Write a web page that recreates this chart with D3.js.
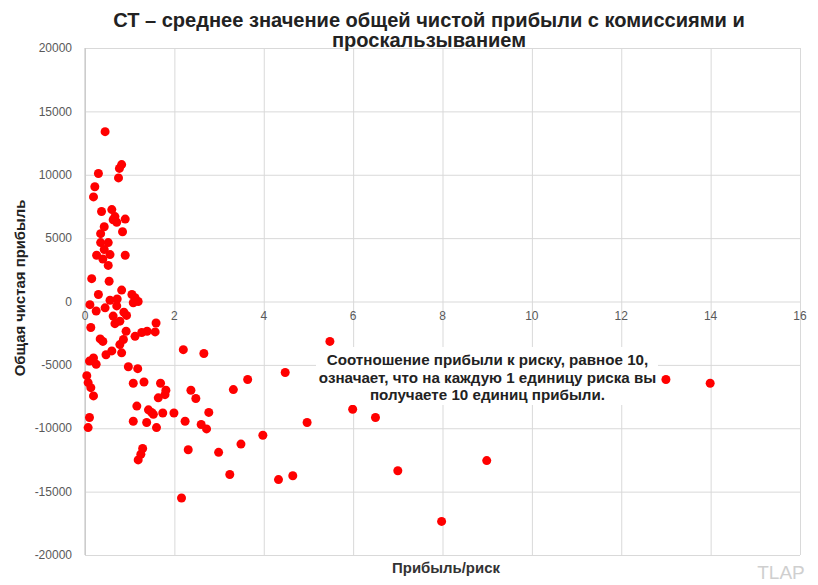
<!DOCTYPE html>
<html>
<head>
  <meta charset="utf-8">
  <title>CT scatter</title>
  <script src="https://d3js.org/d3.v7.min.js"></script>
  <style>
    body { margin: 0; background: #fff; }
    text { font-family: "Liberation Sans", Arial, sans-serif; }
    .gridlines line { stroke: #d9d9d9; }
    .gridlines .domain { stroke: none; }
  </style>
</head>
<body>
<div id="chart"></div>
<script>
  // chart text
  const titleLines = ["СТ – среднее значение общей чистой прибыли с комиссиями и", "проскальзыванием"];
  const xLabel = "Прибыль/риск";
  const yLabel = "Общая чистая прибыль";
  const noteLines = ["Соотношение прибыли к риску, равное 10,", "означает, что на каждую 1 единицу риска вы", "получаете 10 единиц прибыли."];

  // tick values
  const xTicks = [0, 2, 4, 6, 8, 10, 12, 14, 16];
  const yTicks = [20000, 15000, 10000, 5000, 0, -5000, -10000, -15000, -20000];

  // points: profit/risk ratio and total net profit
  const ratio = [
    0.45, 0.82, 0.77, 0.75, 0.30, 0.22, 0.19, 0.37, 0.60, 0.67,
    0.90, 0.63, 0.71, 0.43, 0.35, 0.84, 0.35, 0.52, 0.43, 0.26,
    0.40, 0.56, 0.90, 0.52, 0.15, 0.54, 0.82, 0.30, 1.05, 1.12,
    1.19, 0.56, 0.72, 0.11, 0.25, 0.45, 0.71, 1.08, 0.63, 0.87,
    0.93, 0.67, 0.78, 1.59, 0.13, 0.92, 0.34, 0.40, 0.86, 0.78,
    1.12, 1.27, 1.39, 1.57, 2.20, 0.60, 0.47, 0.82, 0.10, 0.19,
    0.25, 0.97, 1.18, 0.04, 0.07, 0.13, 0.19, 1.08, 1.32, 1.69,
    1.81, 1.79, 1.64, 2.37, 2.48, 1.16, 1.42, 1.49, 1.53, 1.74,
    1.99, 0.10, 0.07, 1.08, 1.38, 1.60, 2.24, 2.60, 2.72, 2.77,
    1.29, 1.25, 1.19, 2.31, 2.16, 5.48, 2.66, 4.48, 3.64, 3.32,
    5.99, 4.97, 3.98, 3.49, 2.99, 3.24, 4.33, 4.65, 13.0, 13.99,
    6.50, 7.00, 8.99, 7.98
  ];
  const netProfit = [
    13400, 10800, 10500, 9750, 10100, 9050, 8250, 7100, 7250, 6700,
    6500, 6450, 6250, 5900, 5350, 5500, 4650, 4650, 4100, 3650,
    3350, 3700, 3650, 2850, 1800, 1600, 900, 550, 550, 300,
    0, 100, 200, -250, -750, -500, -350, -100, -1150, -850,
    -1100, -1750, -1550, -1700, -2050, -2350, -2950, -3150, -3000, -3400,
    -2750, -2450, -2350, -2400, -3800, -3900, -4200, -4050, -4700, -4450,
    -4950, -5150, -5300, -5850, -6400, -6800, -7450, -6450, -6350, -6450,
    -7000, -7350, -7600, -7000, -7650, -8250, -8550, -8750, -8900, -8800,
    -8800, -9150, -9950, -9450, -9550, -9950, -9450, -9700, -10050, -8750,
    -11600, -12050, -12500, -11700, -15500, -3150, -4100, -5600, -6150, -6950,
    -8500, -9550, -10550, -11250, -11900, -13650, -14050, -13750, -6150, -6450,
    -9150, -13350, -12550, -17350
  ];

  const width = 818;
  const height = 585;
  const margins = { top: 48, right: 18, bottom: 30, left: 85 };
  const chartWidth = width - margins.left - margins.right;
  const chartHeight = height - margins.top - margins.bottom;

  // scale a group of text lines so the first one is `target` px wide
  function fitLines(sel, target) {
    const base = +sel.attr("font-size");
    const w = sel.node().getComputedTextLength();
    sel.attr("font-size", base * target / w);
  }

  const svg = d3.select("#chart")
    .append("svg")
    .attr("width", width)
    .attr("height", height);

  svg.append("rect").attr("width", width).attr("height", height).attr("fill", "#fff");

  const chartArea = svg.append("g")
    .attr("transform", `translate(${margins.left},${margins.top})`);

  const xScale = d3.scaleLinear().domain([0, 16]).range([0, chartWidth]);
  const yScale = d3.scaleLinear().domain([-20000, 20000]).range([chartHeight, 0]);

  // gridlines
  chartArea.append("g")
    .attr("class", "gridlines")
    .call(d3.axisLeft(yScale).tickValues(yTicks).tickSize(-chartWidth).tickFormat(""));

  chartArea.append("g")
    .attr("class", "gridlines")
    .call(d3.axisBottom(xScale).tickValues(xTicks).tickSize(chartHeight).tickFormat(""));

  // y-axis line at x = 0
  chartArea.append("line")
    .attr("x1", xScale(0)).attr("x2", xScale(0))
    .attr("y1", 0).attr("y2", chartHeight)
    .attr("stroke", "#bfbfbf");

  // y tick labels
  chartArea.append("g").selectAll("text")
    .data(yTicks)
    .join("text")
    .attr("x", -13)
    .attr("y", d => yScale(d))
    .attr("dy", "0.35em")
    .attr("text-anchor", "end")
    .attr("font-size", 12)
    .attr("fill", "#595959")
    .text(d => d);

  // x tick labels sit under the zero line
  chartArea.append("g").selectAll("text")
    .data(xTicks)
    .join("text")
    .attr("x", d => xScale(d))
    .attr("y", yScale(0) + 18)
    .attr("text-anchor", "middle")
    .attr("font-size", 12)
    .attr("fill", "#595959")
    .text(d => d);

  // points
  chartArea.append("g").selectAll("circle")
    .data(ratio.map((r, i) => [r, netProfit[i]]))
    .join("circle")
    .attr("cx", d => xScale(d[0]))
    .attr("cy", d => yScale(d[1]))
    .attr("r", 4.5)
    .attr("fill", "#ff0000");

  // title
  const title = svg.append("g").selectAll("text")
    .data(titleLines)
    .join("text")
    .attr("x", 429)
    .attr("y", (d, i) => 27 + i * 20)
    .attr("text-anchor", "middle")
    .attr("font-size", 20)
    .attr("font-weight", "bold")
    .attr("fill", "#222")
    .text(d => d);
  fitLines(title, 632);

  // note box
  svg.append("rect")
    .attr("x", 316).attr("y", 347)
    .attr("width", 342).attr("height", 58)
    .attr("fill", "#fff");

  const note = svg.append("g").selectAll("text")
    .data(noteLines)
    .join("text")
    .attr("x", 487.5)
    .attr("y", (d, i) => 365 + i * 17.5)
    .attr("text-anchor", "middle")
    .attr("font-size", 15)
    .attr("font-weight", "bold")
    .attr("fill", "#222")
    .text(d => d);
  fitLines(note, 322);

  // axis titles
  const xTitle = svg.append("text")
    .attr("x", 446).attr("y", 573)
    .attr("text-anchor", "middle")
    .attr("font-size", 15)
    .attr("font-weight", "bold")
    .attr("fill", "#333")
    .text(xLabel);
  fitLines(xTitle, 108);

  const yTitle = svg.append("text")
    .attr("transform", "translate(25,288) rotate(-90)")
    .attr("text-anchor", "middle")
    .attr("font-size", 14)
    .attr("font-weight", "bold")
    .attr("fill", "#222")
    .text(yLabel);
  fitLines(yTitle, 177);

  svg.append("text")
    .attr("x", 781).attr("y", 579)
    .attr("text-anchor", "middle")
    .attr("font-size", 19)
    .attr("fill", "#cfcfcf")
    .text("TLAP");
</script>
</body>
</html>
